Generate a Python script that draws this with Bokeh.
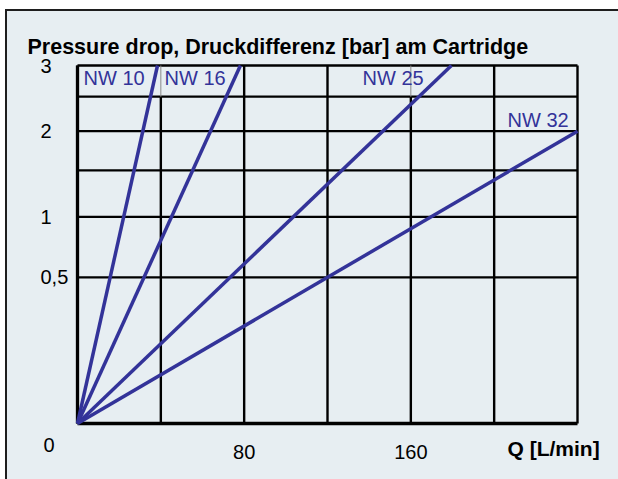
import math
from bokeh.plotting import figure
from bokeh.models import Range1d
from bokeh.core.properties import value
from bokeh.embed import file_html
from bokeh.resources import INLINE

# ---- data ----
series_names = ["NW 10", "NW 16", "NW 25", "NW 32"]
q_end = [38.4, 78.2, 179.5, 240.0]      # flow Q [L/min] at the end of each line
dp_end = [3.0, 3.0, 3.0, 2.0]           # pressure drop [bar] at the end of each line

y_ticks = [0.5, 1, 2, 3]
y_tick_labels = ["0,5", "1", "2", "3"]
y_grid = [0.5, 1, 1.5, 2, 2.5, 3]
x_ticks = [80, 160]
x_tick_labels = ["80", "160"]
x_grid = [0, 40, 80, 120, 160, 200, 240]
x_grid_open_top = [40, 160]   # verticals that are only thin in the top row

BG = "#e7eef2"
BLUE = "#333399"
FONT = "Liberation Sans"

# ---- geometry (pixels of the figure) ----
W, H = 618, 479
X0, X1 = 77, 577          # pixel x of Q=0 and Q=240
Y0, Y1 = 423, 65          # pixel y (from top) of dp=0 and dp=3
QMAX, DPMAX = 240.0, 3.0
kx = (X1 - X0) / QMAX
ky = (Y0 - Y1) / math.sqrt(DPMAX)


def sy(dp):
    """square-root pressure scale"""
    return math.sqrt(dp)


def px(fx):
    return (fx - X0) / kx


def py(fy):
    return (Y0 - fy) / ky


p = figure(width=W, height=H,
           x_range=Range1d(px(0), px(W)), y_range=Range1d(py(H), py(0)),
           x_axis_location=None, y_axis_location=None,
           toolbar_location=None, output_backend="svg",
           min_border=0, background_fill_color="white", border_fill_color="white",
           outline_line_color=None)
p.title.visible = False
p.grid.visible = False

# panel background and outer frame (top and left edges)
p.quad(left=[px(5.5)], right=[px(W + 5)], top=[py(9.5)], bottom=[py(H + 5)],
       fill_color=BG, line_color=None)
p.segment(x0=[px(4.5)], y0=[py(9.5)], x1=[px(W + 5)], y1=[py(9.5)],
          line_color="#1e1e1e", line_width=2)
p.segment(x0=[px(5.5)], y0=[py(8.5)], x1=[px(5.5)], y1=[py(H + 5)],
          line_color="#1e1e1e", line_width=2)

# horizontal grid
p.segment(x0=[0] * len(y_grid), y0=[sy(v) for v in y_grid],
          x1=[QMAX] * len(y_grid), y1=[sy(v) for v in y_grid],
          line_color="black", line_width=2.3)
p.segment(x0=[0], y0=[0], x1=[QMAX], y1=[0], line_color="black", line_width=3.3)

# vertical grid
full = [q for q in x_grid if q not in x_grid_open_top]
p.segment(x0=full, y0=[0] * len(full), x1=full, y1=[sy(DPMAX)] * len(full),
          line_color="black", line_width=2.4)
p.segment(x0=x_grid_open_top, y0=[0] * 2, x1=x_grid_open_top, y1=[sy(2.5)] * 2,
          line_color="black", line_width=2.4)
p.segment(x0=x_grid_open_top, y0=[sy(2.5)] * 2, x1=x_grid_open_top, y1=[sy(DPMAX)] * 2,
          line_color="#8a8a8a", line_width=1)
p.segment(x0=[0], y0=[0], x1=[0], y1=[sy(DPMAX)], line_color="black", line_width=3.3)

# characteristic lines
for q, dp in zip(q_end, dp_end):
    p.line([0, q], [0, sy(dp)], line_color=BLUE, line_width=3.5)

# series labels
lab_x = [px(83), px(164), px(362), px(507)]
lab_y = [py(77), py(77), py(77), py(119.5)]
p.text(x=lab_x, y=lab_y, text=series_names, text_color=BLUE,
       text_font=value(FONT), text_font_size="20px",
       text_align="left", text_baseline="middle")

# y tick labels
p.text(x=[px(40)] * len(y_ticks), y=[sy(v) for v in y_ticks], text=y_tick_labels,
       text_color="black", text_font=value(FONT), text_font_size="20px",
       text_align="left", text_baseline="middle")
p.text(x=[px(43)], y=[py(444)], text=["0"],
       text_color="black", text_font=value(FONT), text_font_size="20px",
       text_align="left", text_baseline="middle")

# x tick labels
p.text(x=x_ticks, y=[py(451.7)] * len(x_ticks), text=x_tick_labels,
       text_color="black", text_font=value(FONT), text_font_size="20px",
       text_align="center", text_baseline="middle")
p.text(x=[px(507)], y=[py(447.5)], text=["Q [L/min]"],
       text_color="black", text_font=value(FONT), text_font_size="21px",
       text_font_style="bold", text_align="left", text_baseline="middle")

# title
p.text(x=[px(27)], y=[py(46.7)],
       text=["Pressure drop, Druckdifferenz [bar]  am Cartridge"],
       text_color="black", text_font=value(FONT), text_font_size="21.5px",
       text_font_style="bold", text_align="left", text_baseline="alphabetic")

open("out.html", "w").write(file_html(p, INLINE))
